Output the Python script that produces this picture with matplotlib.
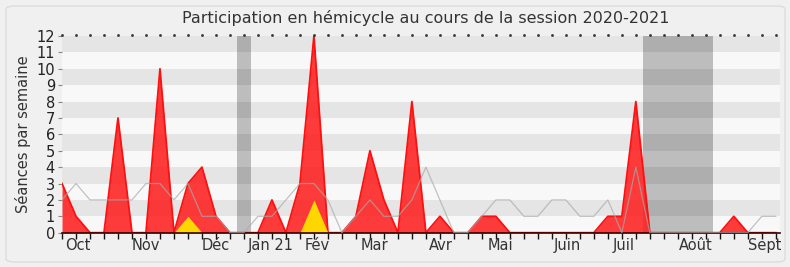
import matplotlib
matplotlib.use("Agg")
import matplotlib.pyplot as plt
from matplotlib.patches import FancyBboxPatch
import numpy as np

plt.rcParams['font.family'] = ['DejaVu Sans']

title = "Participation en hémicycle au cours de la session 2020-2021"
ylabel = "Séances par semaine"

# weekly values (week index 0..51)
red_vals = [3, 1, 0, 0, 7, 0, 0, 10, 0, 3, 4, 1, 0, 0, 0, 2, 0, 3, 12, 0,
            0, 1, 5, 2, 0, 8, 0, 1, 0, 0, 1, 1, 0, 0, 0, 0, 0, 0, 0, 1,
            1, 8, 0, 0, 0, 0, 0, 0, 1, 0, 0, 0]
yellow_vals = [0, 0, 0, 0, 0, 0, 0, 0, 0, 1, 0, 0, 0, 0, 0, 0, 0, 0, 2, 0,
               0, 0, 0, 0, 0, 0, 0, 0, 0, 0, 0, 0, 0, 0, 0, 0, 0, 0, 0, 0,
               0, 0, 0, 0, 0, 0, 0, 0, 0, 0, 0, 0]
gray_vals = [2, 3, 2, 2, 2, 2, 3, 3, 2, 3, 1, 1, 0, 0, 1, 1, 2, 3, 3, 2,
             0, 1, 2, 1, 1, 2, 4, 2, 0, 0, 1, 2, 2, 1, 1, 2, 2, 1, 1, 2,
             0, 4, 0, 0, 0, 0, 0, 0, 0, 0, 1, 1]

month_labels = ["Oct", "Nov", "Déc", "Jan 21", "Fév", "Mar", "Avr", "Mai",
                "Juin", "Juil", "Août", "Sept"]
month_pos = [1.15, 6.0, 11.0, 14.9, 18.25, 22.3, 27.1, 31.35, 36.1, 40.1, 45.25, 50.2]

holidays = [(12.5, 13.5), (41.5, 46.5)]

weeks = np.arange(len(red_vals))

fig = plt.figure(figsize=(7.9, 2.67), dpi=100)
fig.patch.set_facecolor('#f0f0f0')
frame = FancyBboxPatch((6 / 790, 5 / 267), 779 / 790, 256 / 267,
                       boxstyle="round,pad=0,rounding_size=0.012",
                       transform=fig.transFigure, facecolor='none',
                       edgecolor='#dcdcdc', linewidth=1.0)
fig.patches.append(frame)

ax = fig.add_axes([62 / 790, 34.3 / 267, 718 / 790, 196.7 / 267])
ax.set_facecolor('#f8f8f8')

for a, b in holidays:
    ax.axvspan(a, b, color='#bdbdbd', zorder=1, lw=0)
for k in range(1, 12, 2):
    ax.axhspan(k, k + 1, color='black', alpha=0.075, zorder=1.5, lw=0)

ax.fill_between(weeks, red_vals, 0, color='#ff1a1a', alpha=0.85, lw=0, zorder=2)
ax.plot(weeks, red_vals, color='#ff1010', lw=1.3, zorder=2.2)
ax.fill_between(weeks, yellow_vals, 0, color='#ffd700', lw=0, zorder=2.5)
ax.plot(weeks, gray_vals, color='#aaaaaa', lw=0.9, alpha=0.7, zorder=3)

ax.set_xlim(0, 51.3)
ax.set_ylim(0, 12)
ax.set_yticks(range(0, 13))
ax.tick_params(axis='y', labelsize=10.5, length=3, color='#888888', pad=2, labelcolor='#222222')

# weekly ticks as major (no labels), month labels as minor (no tick mark)
ax.set_xticks(weeks)
ax.set_xticklabels([''] * len(weeks))
ax.set_xticks(month_pos, minor=True)
ax.set_xticklabels(month_labels, minor=True)
ax.xaxis.remove_overlapping_locs = False
ax.tick_params(axis='x', which='major', length=4, width=1, color='#111111', direction='out')
ax.tick_params(axis='x', which='minor', length=0, labelsize=10.5, pad=4, labelcolor='#333333')

for s in ['top', 'right', 'left']:
    ax.spines[s].set_visible(False)
ax.spines['bottom'].set_color('#330000')
ax.spines['bottom'].set_linewidth(1.2)

# top small dots at weeks
ax.plot(weeks, [12.08] * len(weeks), linestyle='none', marker='s', markersize=0.9,
        color='#333333', clip_on=False, zorder=4)

ax.set_ylabel(ylabel, fontsize=10.5, color='#333333', labelpad=4)
fig.text(426 / 790, 1 - 18 / 267, title, ha='center', va='center', fontsize=11.5, color='#333333')

fig.savefig('out.png', dpi=100, facecolor=fig.get_facecolor())
